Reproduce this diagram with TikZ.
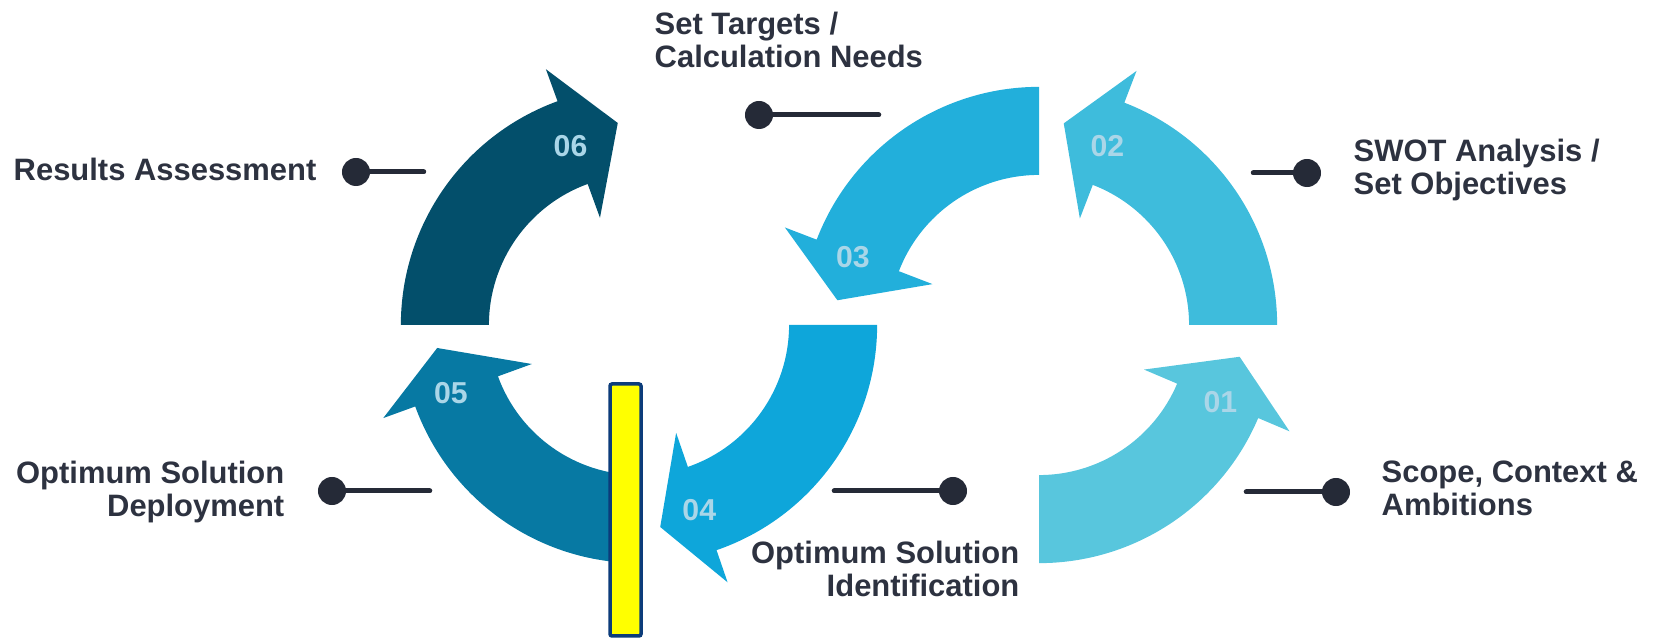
\documentclass[tikz,border=0pt]{standalone}
\usepackage{fontspec}
\setmainfont{Liberation Sans}
\usetikzlibrary{positioning,calc}
\definecolor{labeltext}{RGB}{45,50,64}
\definecolor{pindark}{RGB}{37,42,55}
\definecolor{numtext}{RGB}{170,214,232}
\definecolor{stepone}{RGB}{88,198,221}
\definecolor{steptwo}{RGB}{62,188,220}
\definecolor{stepthree}{RGB}{34,175,219}
\definecolor{stepfour}{RGB}{14,166,218}
\definecolor{stepfive}{RGB}{7,121,163}
\definecolor{stepsix}{RGB}{3,79,107}
\definecolor{markfill}{RGB}{255,255,0}
\definecolor{markedge}{RGB}{12,60,122}
% curved arrow: centre, start angle, head angle, tip angle, colour
\newcommand{\cyclearrow}[5]{%
  \fill[#5, shift={(#1)}] (#2:1.5cm) arc[start angle=#2, end angle=#3, radius=1.5cm]
    -- (#3:1.14cm) -- (#4:2.03cm) -- (#3:2.72cm) -- (#3:2.38cm)
    arc[start angle=#3, end angle=#2, radius=2.38cm] -- cycle;}
\tikzset{
    %Define style for step labels
    steplabel/.style={
           font=\fontsize{8.8}{9.4}\selectfont\bfseries,
           text=labeltext,
           inner sep=0pt},
    %Define style for numbers on arrows
    stepnum/.style={
           font=\fontsize{8.6}{9}\selectfont\bfseries,
           text=numtext,
           inner sep=0pt},
    % Define connector styles
    pindot/.style={
           circle,
           fill=pindark,
           inner sep=0pt,
           minimum size=0.28cm},
    pinline/.style={
           draw=pindark,
           line width=0.05cm,
           line cap=round}
}
\begin{document}
\begin{tikzpicture}[x=0.01cm, y=0.01cm]
      \useasboundingbox (0,0) rectangle (1653,-640);
      \coordinate (lc) at (639,-325);
      \coordinate (rc) at (1039,-325);

      % right ring
      \cyclearrow{rc}{-90}{-23}{-9}{stepone}
      \cyclearrow{rc}{0}{69}{83}{steptwo}
      \cyclearrow{rc}{90}{159}{173}{stepthree}
      % left ring
      \cyclearrow{lc}{0}{-71}{-84}{stepfour}
      \cyclearrow{lc}{-90}{-160}{-173.5}{stepfive}
      \cyclearrow{lc}{180}{110}{96}{stepsix}

      \node[stepnum] (n01) at ([shift={(-23:1.97cm)}]rc) {01};
      \node[stepnum] (n02) at ([shift={(69:1.91cm)}]rc) {02};
      \node[stepnum] (n03) at ([shift={(160:1.98cm)}]rc) {03};
      \node[stepnum] (n04) at ([shift={(-72:1.95cm)}]lc) {04};
      \node[stepnum] (n05) at ([shift={(-160:2cm)}]lc) {05};
      \node[stepnum] (n06) at ([shift={(111:1.91cm)}]lc) {06};

      \node[steplabel, anchor=west] (lres) at (13,-169) {Results Assessment};
      \node[steplabel, align=left, anchor=north west] (lset) at (654,-11) {Set Targets /\\Calculation Needs};
      \node[steplabel, align=left, anchor=north west] (lswot) at (1353,-138) {SWOT Analysis /\\Set Objectives};
      \node[steplabel, align=right, anchor=north east] (ldep) at (285,-460) {Optimum Solution\\Deployment};
      \node[steplabel, align=right, anchor=north east] (lid) at (1020,-540) {Optimum Solution\\Identification};
      \node[steplabel, align=left, anchor=north west] (lscope) at (1381,-460) {Scope, Context \&\\Ambitions};

      \node[pindot] (dres) at (356,-172) {};
      \coordinate[right=0.53cm of dres] (eres);
      \draw[pinline] (dres.center) -- (eres);
      \node[pindot] (dset) at (759,-115) {};
      \coordinate[right=1.05cm of dset] (eset);
      \draw[pinline] (dset.center) -- (eset);
      \node[pindot] (dswot) at (1307,-173) {};
      \coordinate[left=0.39cm of dswot] (eswot);
      \draw[pinline] (dswot.center) -- (eswot);
      \node[pindot] (ddep) at (332,-491) {};
      \coordinate[right=0.83cm of ddep] (edep);
      \draw[pinline] (ddep.center) -- (edep);
      \node[pindot] (did) at (953,-491) {};
      \coordinate[left=1.04cm of did] (eid);
      \draw[pinline] (did.center) -- (eid);
      \node[pindot] (dscope) at (1336,-492) {};
      \coordinate[left=0.75cm of dscope] (escope);
      \draw[pinline] (dscope.center) -- (escope);

      \filldraw[fill=markfill, draw=markedge, line width=0.035cm, rounded corners=0.02cm]
        (610,-384) rectangle (641,-636);
  \end{tikzpicture}
\end{document}
